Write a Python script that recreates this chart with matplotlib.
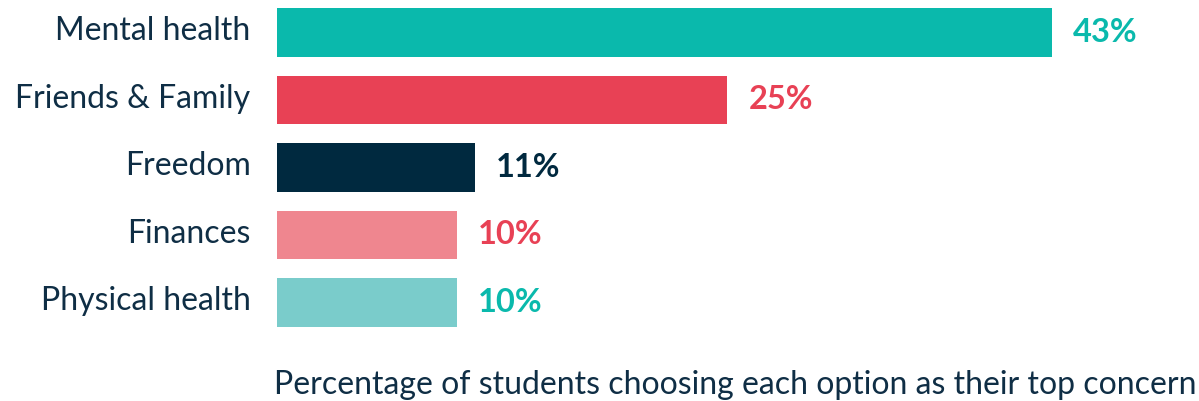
import matplotlib.pyplot as plt
import matplotlib.transforms as mtransforms

# top concerns, top to bottom
categories = ['Mental health', 'Friends & Family', 'Freedom', 'Finances', 'Physical health']
values = [43, 25, 11, 10, 10]
bar_colors = ['#0AB9AC', '#E84155', '#00293F', '#EF868F', '#7ACCCB']
label_colors = ['#0AB9AC', '#E84155', '#00293F', '#E84155', '#0AB9AC']
xlabel = 'Percentage of students choosing each option as their top concern'

TEXT = '#0F2E45'
plt.rcParams['font.family'] = ['Lato', 'DejaVu Sans']

W, H = 1199, 401
fig = plt.figure(figsize=(W / 100, H / 100), dpi=100)
ax = fig.add_axes([277 / W, (H - 336) / H, (W - 277) / W, 336 / H])

pos = list(range(len(categories)))
ax.barh(pos, values, height=0.72, color=bar_colors)
ax.set_xlim(0, (W - 277) / 18.02)
ax.set_ylim(4.5, -0.48)

ax.set_yticks(pos)
ax.set_yticklabels(categories, fontsize=23, color=TEXT)
ax.tick_params(axis='y', length=0, pad=19)
# labels sit a little above the bar centres in the original
shift = mtransforms.ScaledTranslation(0, 3 / 72, fig.dpi_scale_trans)
for t in ax.get_yticklabels():
    t.set_transform(t.get_transform() + shift)
ax.set_xticks([])
for s in ax.spines.values():
    s.set_visible(False)

for i, (v, c) in enumerate(zip(values, label_colors)):
    ax.annotate(f'{v}%', (v, i), xytext=(15, 0), textcoords='offset points',
                ha='left', va='center', fontsize=23.5, fontweight='bold', color=c)

fig.text(274 / W, 1 - 385 / H, xlabel, ha='left', va='center', fontsize=23, color=TEXT)

fig.savefig('out.png', dpi=100)
